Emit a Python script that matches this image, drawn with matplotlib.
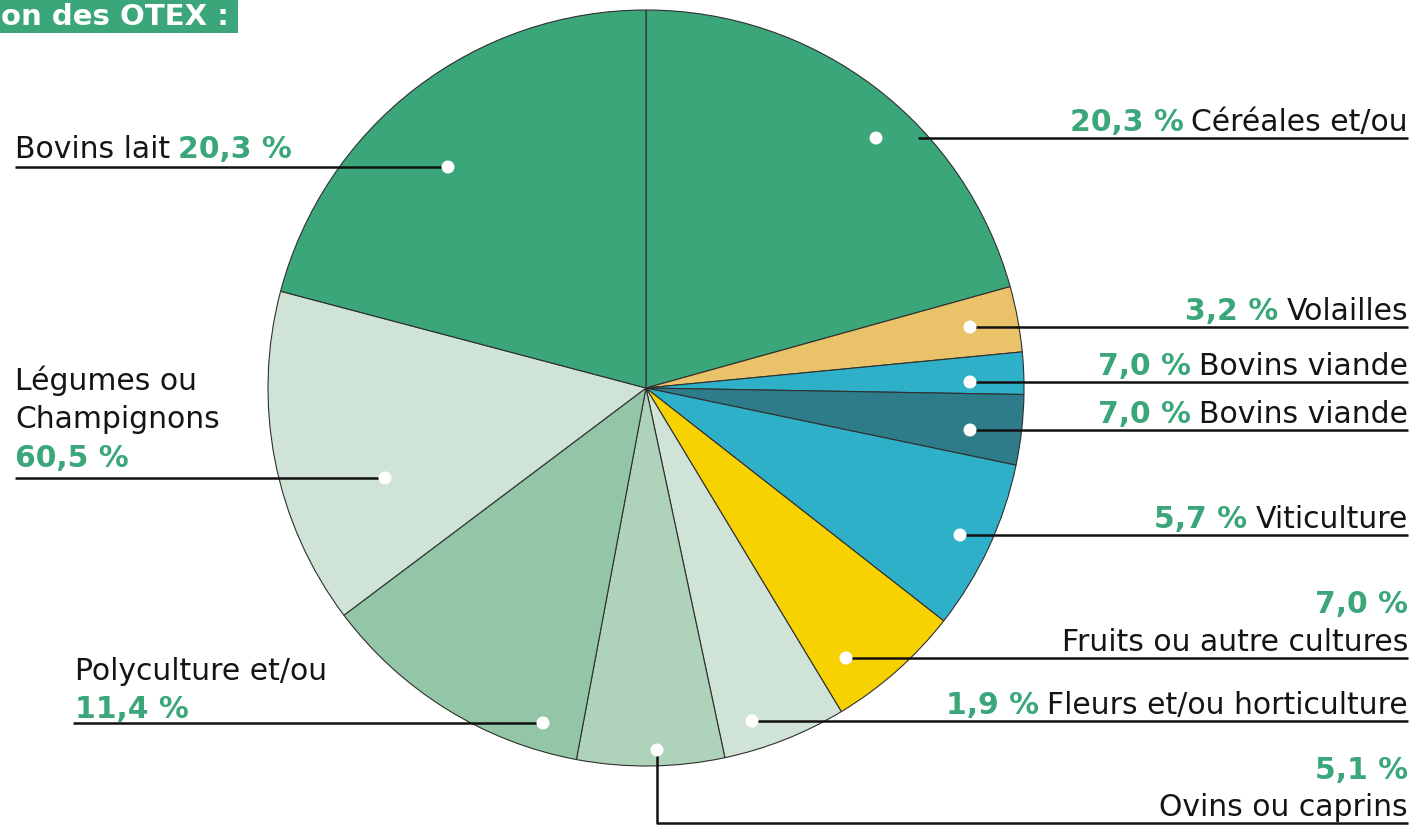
import matplotlib
matplotlib.use('Agg')
import matplotlib.pyplot as plt
from matplotlib.patches import Rectangle, Circle

# ---------------- data ----------------
categories = ['Céréales et/ou', 'Volailles', 'Bovins viande', 'Bovins viande',
              'Viticulture', 'Fruits ou autre cultures', 'Fleurs et/ou horticulture',
              'Ovins ou caprins', 'Polyculture et/ou', 'Légumes ou\nChampignons',
              'Bovins lait']
label_pcts = ['20,3 %', '3,2 %', '7,0 %', '7,0 %', '5,7 %', '7,0 %', '1,9 %',
              '5,1 %', '11,4 %', '60,5 %', '20,3 %']
# slice sizes as drawn in the picture (clockwise from 12 o'clock)
slice_values = [20.7, 2.8, 1.8, 3.0, 7.3, 5.8, 5.3, 6.3, 11.8, 14.4, 20.9]
slice_colors = ['#3aa679', '#e9c26a', '#2eb0c9', '#2e7b8a', '#2eb0c9', '#f7d100',
                '#cfe3d6', '#afd3ba', '#93c6a6', '#cfe3d6', '#3aa679']
title_text = 'on des OTEX :'

GREEN = '#3aa679'
TEXT = '#141414'
FONT = 'DejaVu Sans'
FS = 21.5

W, H = 1416, 825
fig = plt.figure(figsize=(W / 100, H / 100), dpi=100)
ax = fig.add_axes([0, 0, 1, 1])

cx, cy, R = 646, H - 388, 378
ax.pie(slice_values, colors=slice_colors, startangle=90, counterclock=False,
       center=(cx, cy), radius=R,
       wedgeprops=dict(edgecolor='#2f2f2f', linewidth=0.8))
ax.set_xlim(0, W)
ax.set_ylim(0, H)
ax.set_aspect('equal')
ax.axis('off')

# ---------------- layout (pixel coordinates, y from top) ----------------
leaders = [
    dict(dot=(876, 138), line=[(918, 138), (1408, 138)]),
    dict(dot=(970, 327), line=[(970, 327), (1408, 327)]),
    dict(dot=(970, 382), line=[(970, 382), (1408, 382)]),
    dict(dot=(970, 430), line=[(970, 430), (1408, 430)]),
    dict(dot=(960, 535), line=[(960, 535), (1408, 535)]),
    dict(dot=(846, 658), line=[(846, 658), (1408, 658)]),
    dict(dot=(752, 721), line=[(752, 721), (1408, 721)]),
    dict(dot=(657, 750), line=[(657, 750), (657, 823), (1408, 823)]),
    dict(dot=(543, 723), line=[(543, 723), (73, 723)]),
    dict(dot=(385, 478), line=[(385, 478), (15, 478)]),
    dict(dot=(448, 167), line=[(448, 167), (15, 167)]),
]

for ld in leaders:
    xs = [p[0] for p in ld['line']]
    ys = [H - p[1] for p in ld['line']]
    ax.plot(xs, ys, color='#111111', lw=1.8, solid_capstyle='butt', zorder=5)
    ax.add_patch(Circle((ld['dot'][0], H - ld['dot'][1]), 6.5, facecolor='white',
                        edgecolor='none', zorder=6))

fig.canvas.draw()
renderer = fig.canvas.get_renderer()

def style(kind):
    if kind == 'pct':
        return dict(color=GREEN, fontweight='bold')
    return dict(color=TEXT, fontweight='normal')

GAP = 8

def right_run(x, ybase, pieces):
    """pieces left->right, right-aligned at x; ybase: baseline px from top"""
    for txt, kind in reversed(pieces):
        t = ax.text(x, H - ybase, txt, ha='right', va='baseline', fontsize=FS,
                    family=FONT, zorder=7, **style(kind))
        w = t.get_window_extent(renderer).width
        x -= w + GAP

def left_run(x, ybase, pieces):
    for txt, kind in pieces:
        t = ax.text(x, H - ybase, txt, ha='left', va='baseline', fontsize=FS,
                    family=FONT, zorder=7, **style(kind))
        w = t.get_window_extent(renderer).width
        x += w + GAP

XR = 1408
right_run(XR, 131, [(label_pcts[0], 'pct'), (categories[0], 'name')])
right_run(XR, 320, [(label_pcts[1], 'pct'), (categories[1], 'name')])
right_run(XR, 375, [(label_pcts[2], 'pct'), (categories[2], 'name')])
right_run(XR, 423, [(label_pcts[3], 'pct'), (categories[3], 'name')])
right_run(XR, 528, [(label_pcts[4], 'pct'), (categories[4], 'name')])
right_run(XR, 613, [(label_pcts[5], 'pct')])
right_run(XR, 651, [(categories[5], 'name')])
right_run(XR, 714, [(label_pcts[6], 'pct'), (categories[6], 'name')])
right_run(XR, 779, [(label_pcts[7], 'pct')])
right_run(XR, 816, [(categories[7], 'name')])

left_run(75, 680, [(categories[8], 'name')])
left_run(75, 718, [(label_pcts[8], 'pct')])
leg1, leg2 = categories[9].split('\n')
left_run(15, 390, [(leg1, 'name')])
left_run(15, 428, [(leg2, 'name')])
left_run(15, 467, [(label_pcts[9], 'pct')])
left_run(15, 158, [(categories[10], 'name'), (label_pcts[10], 'pct')])

# title tab
ax.add_patch(Rectangle((0, H - 33), 238, 33, facecolor=GREEN, edgecolor='none', zorder=8))
ax.text(1, H - 25, title_text, ha='left', va='baseline', fontsize=21, family=FONT,
        fontweight='bold', color='white', zorder=9)

fig.savefig('out.png', dpi=100)
